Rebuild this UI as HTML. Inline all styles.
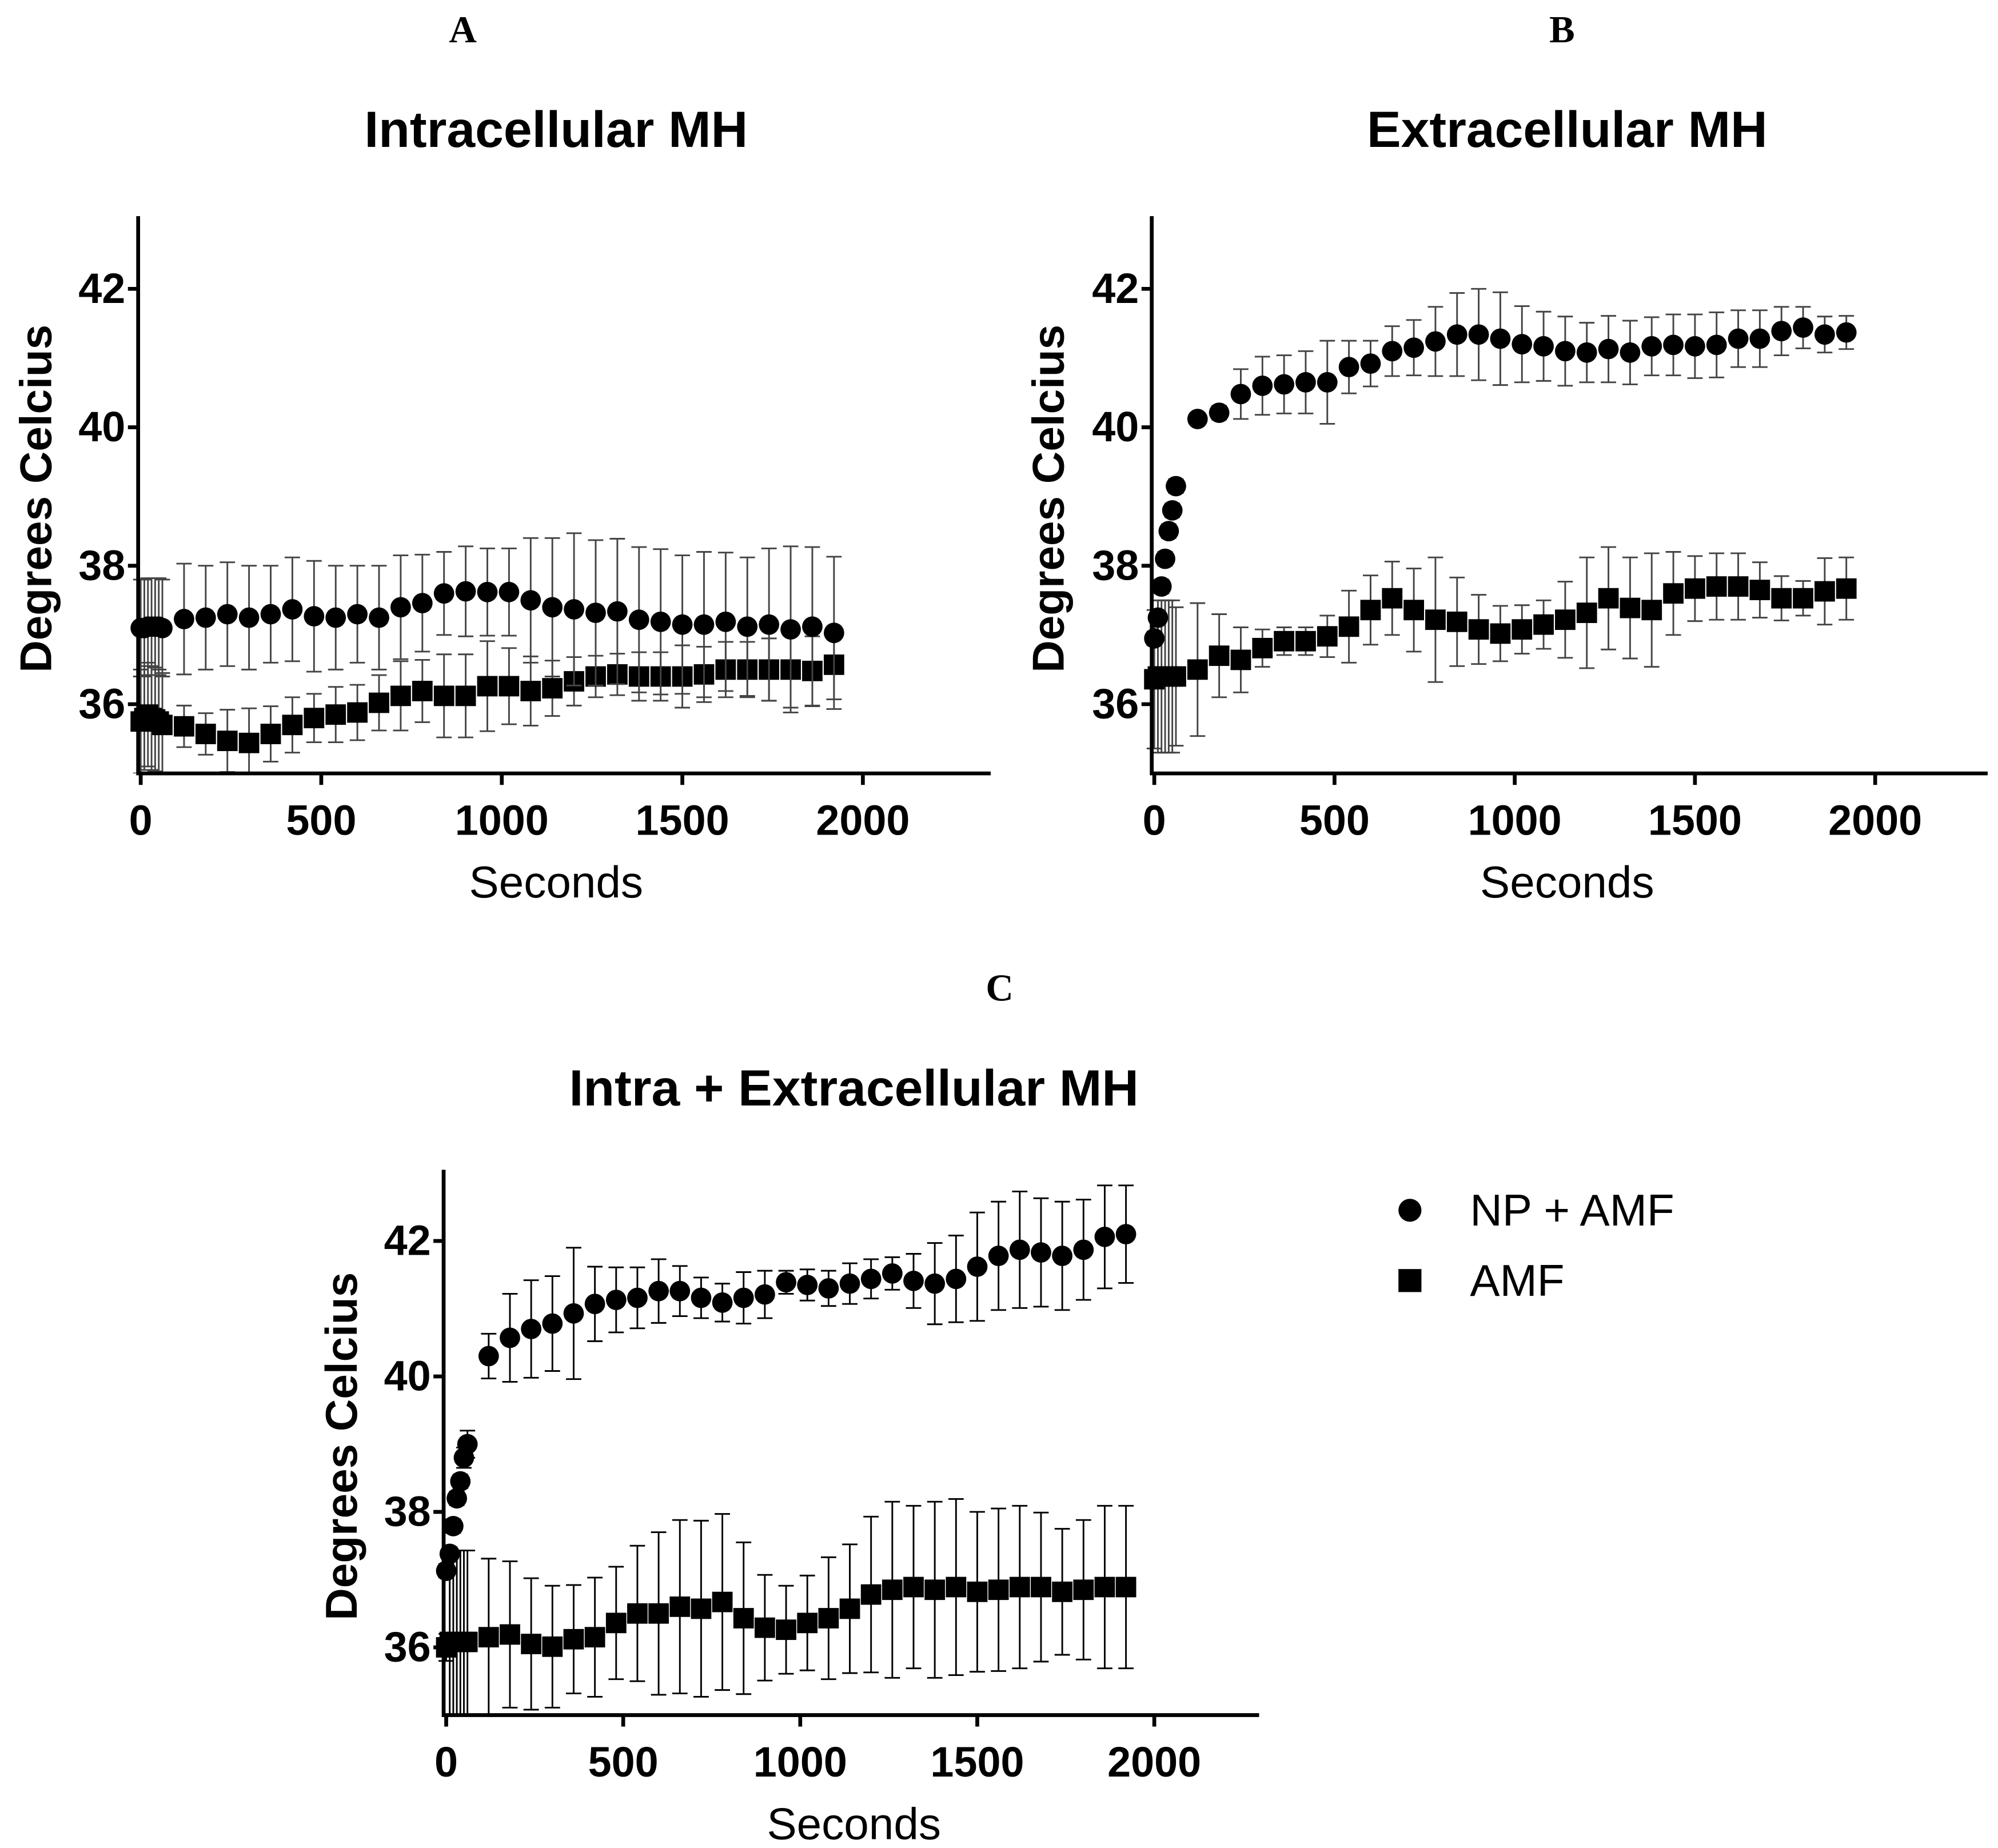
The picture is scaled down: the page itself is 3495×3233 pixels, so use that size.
<!DOCTYPE html>
<html><head><meta charset="utf-8"><style>
html,body{margin:0;padding:0;background:#fff}
svg{display:block}
text{font-family:"Liberation Sans",Arial,sans-serif}
.serif{font-family:"Liberation Serif","Times New Roman",serif}
</style></head><body>
<svg id="fig" width="3495" height="3233" viewBox="0 0 1563 1446" xmlns="http://www.w3.org/2000/svg">
<text class="serif" x="362" y="33" font-size="30" font-weight="bold" text-anchor="middle">A</text>
<text class="serif" x="1222" y="33" font-size="30" font-weight="bold" text-anchor="middle">B</text>
<text class="serif" x="782" y="783" font-size="30" font-weight="bold" text-anchor="middle">C</text>
<g>
<circle cx="1103" cy="947" r="9" fill="#000"/>
<text x="1150" y="959" font-size="35">NP + AMF</text>
<rect x="1094" y="993" width="18" height="18" fill="#000"/>
<text x="1150" y="1014" font-size="35">AMF</text>
</g>
</svg>
<script>
const times=[0,10,20,30,40,50,60,120,180,240,300,360,420,480,540,600,660,720,780,840,900,960,1020,1080,1140,1200,1260,1320,1380,1440,1500,1560,1620,1680,1740,1800,1860,1920];
const xTicks=[0,500,1000,1500,2000];
const yTicks=[36,38,40,42];
const aCircle=[37.1,37.1,37.12,37.12,37.12,37.12,37.1,37.23,37.25,37.3,37.25,37.3,37.37,37.27,37.25,37.3,37.25,37.4,37.46,37.6,37.63,37.62,37.62,37.5,37.4,37.37,37.32,37.34,37.22,37.19,37.15,37.15,37.19,37.12,37.15,37.08,37.12,37.03];
const aCircleSD=[0.7,0.7,0.7,0.7,0.7,0.7,0.7,0.8,0.75,0.75,0.75,0.7,0.75,0.8,0.75,0.7,0.75,0.75,0.7,0.6,0.65,0.63,0.63,0.9,1.0,1.1,1.05,1.05,1.05,1.05,1.0,1.05,1.0,1.0,1.1,1.2,1.15,1.1];
const aSquare=[35.75,35.8,35.85,35.8,35.78,35.75,35.7,35.68,35.57,35.47,35.44,35.57,35.7,35.8,35.85,35.88,36.02,36.12,36.19,36.12,36.12,36.26,36.26,36.19,36.23,36.33,36.4,36.43,36.4,36.4,36.4,36.43,36.5,36.5,36.5,36.5,36.48,36.57];
const aSquareSD=[0.75,0.75,0.75,0.75,0.75,0.75,0.75,0.3,0.3,0.45,0.5,0.4,0.4,0.35,0.4,0.4,0.4,0.5,0.45,0.6,0.6,0.65,0.55,0.5,0.4,0.35,0.3,0.3,0.35,0.35,0.45,0.4,0.4,0.4,0.45,0.55,0.5,0.5];
const bCircle=[36.95,37.25,37.7,38.1,38.5,38.8,39.15,40.12,40.21,40.48,40.6,40.62,40.65,40.65,40.87,40.92,41.1,41.15,41.24,41.34,41.34,41.28,41.2,41.17,41.1,41.08,41.13,41.08,41.17,41.19,41.17,41.19,41.28,41.28,41.39,41.44,41.34,41.37];
const bCircleSD=[0.1,0.1,0.1,0.1,0.1,0.1,0.1,0.05,0.1,0.36,0.42,0.42,0.45,0.6,0.38,0.33,0.36,0.4,0.5,0.6,0.66,0.67,0.55,0.5,0.5,0.43,0.48,0.46,0.42,0.44,0.46,0.47,0.41,0.41,0.35,0.3,0.26,0.24];
const bSquare=[36.36,36.4,36.4,36.4,36.4,36.4,36.4,36.5,36.7,36.64,36.81,36.91,36.91,36.98,37.12,37.36,37.53,37.36,37.22,37.19,37.08,37.02,37.08,37.15,37.22,37.32,37.53,37.39,37.36,37.6,37.67,37.7,37.7,37.65,37.53,37.53,37.63,37.67];
const bSquareSD=[1.0,1.1,1.1,1.1,1.1,1.1,1.0,0.96,0.6,0.47,0.27,0.2,0.2,0.3,0.52,0.5,0.53,0.6,0.9,0.64,0.5,0.4,0.35,0.35,0.55,0.8,0.74,0.73,0.82,0.6,0.47,0.48,0.48,0.4,0.32,0.25,0.48,0.45];
const cCircle=[37.13,37.38,37.79,38.2,38.45,38.8,39.0,40.3,40.57,40.7,40.78,40.93,41.07,41.13,41.16,41.26,41.26,41.16,41.09,41.16,41.21,41.39,41.35,41.3,41.37,41.44,41.52,41.41,41.37,41.44,41.62,41.78,41.87,41.83,41.78,41.87,42.06,42.1];
const cCircleSD=[0.1,0.1,0.1,0.1,0.1,0.15,0.2,0.33,0.65,0.72,0.7,0.97,0.55,0.48,0.45,0.47,0.37,0.3,0.28,0.38,0.35,0.17,0.23,0.26,0.3,0.29,0.24,0.4,0.6,0.64,0.8,0.8,0.86,0.8,0.8,0.74,0.76,0.72];
const cSquare=[36.0,36.08,36.08,36.08,36.08,36.08,36.08,36.15,36.19,36.05,36.01,36.12,36.15,36.36,36.5,36.5,36.6,36.57,36.67,36.43,36.29,36.26,36.36,36.43,36.57,36.78,36.85,36.89,36.85,36.89,36.82,36.85,36.89,36.89,36.82,36.85,36.89,36.89];
const cSquareSD=[0.2,1.35,1.35,1.35,1.35,1.35,1.35,1.16,1.08,0.97,0.9,0.8,0.88,0.83,1.0,1.2,1.28,1.3,1.3,1.12,0.78,0.65,0.7,0.9,0.95,1.15,1.3,1.2,1.3,1.3,1.18,1.2,1.2,1.1,0.93,1.03,1.2,1.2];

const NS='http://www.w3.org/2000/svg';
const fig=document.getElementById('fig');
function mk(tag,attrs,parent){const e=document.createElementNS(NS,tag);for(const k in attrs)e.setAttribute(k,attrs[k]);parent.appendChild(e);return e;}

function panel(id,title,titleX,titleY,x0,x2000,xEnd,y36,y42,circ,circSD,sq,sqSD,col,xl,yl){
  const g=mk('g',{},fig);
  
  
  const xs=v=>x0+(x2000-x0)*v/2000;
  const ys=v=>y36+(y42-y36)*(v-36)/6;
  const yTop=ys(43.05), yBot=ys(35);
  const t=mk('text',{x:titleX,y:titleY,'font-size':40,'font-weight':'bold','text-anchor':'middle'},g);
  t.textContent=title;
  
  
  const clipId='clip'+id;
  const cp=mk('clipPath',{id:clipId},g);
  mk('rect',{x:x0-30,y:yTop-10,width:xEnd-x0+40,height:yBot-yTop+10},cp);
  const dg=mk('g',{'clip-path':'url(#'+clipId+')'},g);
  function series(vals,sds,shape,name){
    const sg=mk('g',{},dg);
    
    
    times.forEach((tm,i)=>{
      const x=xs(tm),hi=ys(vals[i]+sds[i]),lo=ys(vals[i]-sds[i]);
      const eb=mk('path',{d:`M${x},${hi}V${lo}M${x-6},${hi}H${x+6}M${x-6},${lo}H${x+6}`,stroke:col,'stroke-width':1.3,fill:'none'},sg);
      
      
    });
    times.forEach((tm,i)=>{
      const x=xs(tm),y=ys(vals[i]);
      let m;
      if(shape==='c') m=mk('circle',{cx:x,cy:y,r:8,fill:'#000'},sg);
      else m=mk('rect',{x:x-8,y:y-8,width:16,height:16,fill:'#000'},sg);
      
      
    });
  }
  series(sq,sqSD,'s','amf');
  series(circ,circSD,'c','np-amf');
  const ax=mk('path',{d:`M${x0-2},${yTop}V${yBot}H${xEnd}`,stroke:'#000','stroke-width':3,fill:'none'},g);
  
  
  yTicks.forEach(v=>{
    const y=ys(v);
    mk('line',{x1:x0-10,x2:x0-2,y1:y,y2:y,stroke:'#000','stroke-width':3},g);
    const tl=mk('text',{x:x0-12,y:y+11,'font-size':33,'font-weight':'bold','text-anchor':'end'},g);
    tl.textContent=v;
    
    
  });
  xTicks.forEach(v=>{
    const x=xs(v);
    mk('line',{x1:x,x2:x,y1:yBot,y2:yBot+9,stroke:'#000','stroke-width':3},g);
    const tl=mk('text',{x:x,y:yBot+48,'font-size':33,'font-weight':'bold','text-anchor':'middle'},g);
    tl.textContent=v;
    
    
  });
  const xt=mk('text',{x:xl,y:yBot+97,'font-size':35,'text-anchor':'middle'},g);
  xt.textContent='Seconds';
  
  
  const yc=(yTop+yBot)/2+3;
  const yt=mk('text',{x:yl,y:yc,'font-size':35,'font-weight':'bold','text-anchor':'middle',transform:`rotate(-90 ${yl} ${yc})`},g);
  yt.textContent='Degrees Celcius';
  
  
}
panel('a','Intracellular MH',435,115,110,675,775,551,226,aCircle,aCircleSD,aSquare,aSquareSD,'#444',435,40);
panel('b','Extracellular MH',1226,115,903,1467,1555,551,226,bCircle,bCircleSD,bSquare,bSquareSD,'#444',1226,832);
panel('c','Intra + Extracellular MH',668,865,349,903,985,1289,971,cCircle,cCircleSD,cSquare,cSquareSD,'#000',668,279);
</script>
</body></html>
